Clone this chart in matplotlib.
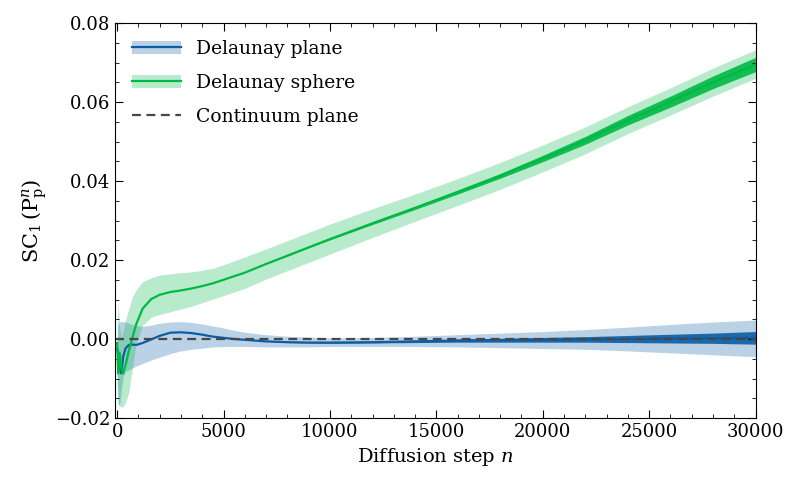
import matplotlib

matplotlib.use("Agg")
import matplotlib.pyplot as plt
import numpy as np
from matplotlib.lines import Line2D
from matplotlib.patches import Patch
from matplotlib.ticker import FuncFormatter, MultipleLocator

steps = [0, 50, 120, 200, 280, 400, 550, 700, 900, 1200, 1600, 2000, 2500, 3000,
         3500, 4000, 4500, 5000, 5500, 6000, 7000, 8000, 9000, 10000, 12000, 14000,
         16000, 18000, 20000, 22000, 24000, 26000, 28000, 30000]

plane_mean = [-0.0025, -0.0035, -0.0075, -0.0087, -0.0045, -0.0023, -0.0015, -0.0014,
              -0.0015, -0.0010, -0.0001, 0.0008, 0.0016, 0.0017, 0.0015, 0.0011, 0.0006,
              0.0003, 0.0, -0.0002, -0.0006, -0.0008, -0.0009, -0.0009, -0.0008, -0.0006,
              -0.0004, -0.0003, -0.0002, -0.0001, 0.0, 0.0001, 0.0002, 0.0003]
plane_low = [-0.009, -0.0165, -0.0167, -0.013, -0.0095, -0.0082, -0.0078, -0.0074,
             -0.0068, -0.0062, -0.0053, -0.0046, -0.0037, -0.0030, -0.0026, -0.0023,
             -0.0020, -0.0019, -0.0019, -0.0019, -0.0020, -0.0020, -0.0020, -0.0019,
             -0.0019, -0.0019, -0.0020, -0.0022, -0.0024, -0.0026, -0.0030, -0.0035,
             -0.0040, -0.0045]
plane_high = [-0.001, 0.0035, 0.0044, 0.0044, 0.0044, 0.0043, 0.0040, 0.0037, 0.0034,
              0.0032, 0.0035, 0.0040, 0.0043, 0.0044, 0.0042, 0.0038, 0.0033, 0.0028,
              0.0022, 0.0017, 0.0011, 0.0007, 0.0005, 0.0003, 0.0004, 0.0007, 0.0011,
              0.0015, 0.0019, 0.0024, 0.0030, 0.0037, 0.0043, 0.0048]
plane_jitter = [0, 0, 0, 0, 0, 0, 0, 0, 0, 0, 0, 0, 0, 0, 0, 0, 0, 0, 0, 0, 0, 0.0001,
                0.0001, 0.0002, 0.0002, 0.0003, 0.0004, 0.0005, 0.0006, 0.0007, 0.0009,
                0.0011, 0.0013, 0.0016]

sphere_mean = [-0.001, -0.0087, -0.0035, -0.0075, -0.0087, -0.0065, -0.0030, 0.0,
               0.0038, 0.0077, 0.0101, 0.0112, 0.0119, 0.0123, 0.0128, 0.0134, 0.0141,
               0.0150, 0.0159, 0.0168, 0.0190, 0.0211, 0.0232, 0.0253, 0.0293, 0.0332,
               0.0372, 0.0413, 0.0457, 0.0503, 0.0554, 0.0601, 0.0650, 0.0695]
sphere_low = [-0.012, -0.0165, -0.017, -0.0172, -0.0172, -0.016, -0.0135, -0.0078,
              -0.001, 0.0035, 0.0055, 0.0062, 0.0069, 0.0076, 0.0083, 0.0092, 0.0101,
              0.0110, 0.0119, 0.0128, 0.0152, 0.0173, 0.0194, 0.0215, 0.0257, 0.0298,
              0.0338, 0.0379, 0.0423, 0.0469, 0.0520, 0.0567, 0.0615, 0.0660]
sphere_high = [0.004, 0.009, 0.003, 0.0, 0.002, 0.005, 0.0075, 0.0105, 0.0125, 0.0145,
               0.0155, 0.0162, 0.0165, 0.0168, 0.0170, 0.0174, 0.0179, 0.0188, 0.0198,
               0.0208, 0.0228, 0.0249, 0.0270, 0.0291, 0.0330, 0.0367, 0.0406, 0.0447,
               0.0491, 0.0537, 0.0588, 0.0636, 0.0686, 0.0732]
sphere_jitter = [0, 0, 0, 0, 0, 0, 0, 0, 0, 0, 0, 0, 0, 0, 0, 0, 0, 0, 0, 0, 0, 0.0001,
                 0.0001, 0.0002, 0.0003, 0.0004, 0.0005, 0.0006, 0.0008, 0.0010, 0.0012,
                 0.0014, 0.0016, 0.0018]

BLUE = "#0C5DA5"
GREEN = "#00B945"
GREY = "#474747"

plt.rcParams["font.family"] = ["DejaVu Serif"]
plt.rcParams["mathtext.fontset"] = "dejavuserif"
plt.rcParams["font.size"] = 13

fig = plt.figure(figsize=(7.97, 4.94), dpi=100)
ax = fig.add_axes([0.1443, 0.1538, 0.8037, 0.7996])

x = np.array(steps)
for mean, low, high, jitter, color in [
    (plane_mean, plane_low, plane_high, plane_jitter, BLUE),
    (sphere_mean, sphere_low, sphere_high, sphere_jitter, GREEN),
]:
    mean = np.array(mean)
    jitter = np.array(jitter)
    ax.fill_between(x, low, high, color=color, alpha=0.28, linewidth=0)
    ax.fill_between(x, mean - jitter, mean + jitter, color=color, alpha=0.9, linewidth=0)
    ax.plot(x, mean, color=color, linewidth=1.6)

ax.axhline(0, color=GREY, linestyle="--", linewidth=1.6, dashes=(4, 2.5))

ax.set_xlim(-100, 30000)
ax.set_ylim(-0.02, 0.08)
ax.set_xlabel(r"Diffusion step $n$", fontsize=14)
ax.set_ylabel(r"SC$_1\,(\mathrm{P}_\mathrm{p}^{n})$", fontsize=15)
ax.xaxis.set_major_locator(MultipleLocator(5000))
ax.xaxis.set_minor_locator(MultipleLocator(1000))
ax.yaxis.set_major_locator(MultipleLocator(0.02))
ax.yaxis.set_minor_locator(MultipleLocator(0.005))
ax.yaxis.set_major_formatter(FuncFormatter(lambda v, _: f"{v:.2f}".replace("-", "\u2212")))
ax.tick_params(which="both", direction="in", top=True, right=True)
ax.tick_params(which="major", length=6)
ax.tick_params(which="minor", length=3)

handles = [
    (Patch(color=BLUE, alpha=0.28, linewidth=0), Line2D([], [], color=BLUE, linewidth=1.6)),
    (Patch(color=GREEN, alpha=0.28, linewidth=0), Line2D([], [], color=GREEN, linewidth=1.6)),
    Line2D([], [], color=GREY, linestyle="--", linewidth=1.6, dashes=(4, 2.5)),
]
ax.legend(handles, ["Delaunay plane", "Delaunay sphere", "Continuum plane"],
          loc="upper left", frameon=False, handlelength=2.6, fontsize=13.5,
          labelspacing=0.85)

fig.savefig("out.png", dpi=100)
plt.close(fig)
